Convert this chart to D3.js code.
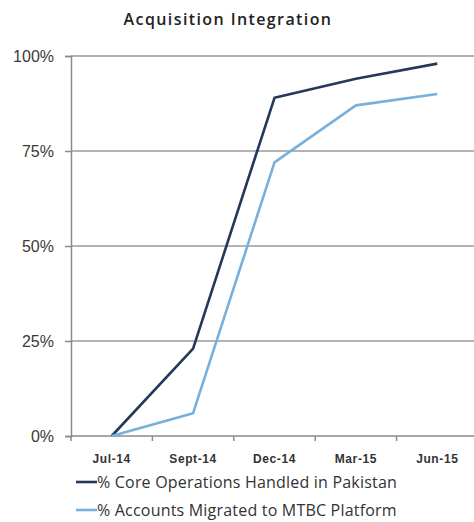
<!DOCTYPE html>
<html>
<head>
<meta charset="utf-8">
<script src="https://cdn.jsdelivr.net/npm/d3@7"></script>
<style>
  html, body { margin: 0; padding: 0; background: #fff; }
  svg { display: block; }
</style>
</head>
<body>
<svg id="chart" width="474" height="522"></svg>
<script>
// Quarterly checkpoints
const categories = ["Jul-14", "Sept-14", "Dec-14", "Mar-15", "Jun-15"];
// Share of core operations handled in Pakistan (%)
const coreOps = [0, 23, 89, 94, 98];
// Share of accounts migrated to the MTBC platform (%)
const accountsMigrated = [0, 6, 72, 87, 90];
// Y-axis ticks
const yTicks = [0, 25, 50, 75, 100];
const seriesNames = [
  "% Core Operations Handled in Pakistan",
  "% Accounts Migrated to MTBC Platform"
];
const seriesColors = ["#22395a", "#78b0dc"];

const svg = d3.select("#chart");
const plotLeft = 71, plotRight = 478, plotTop = 56, plotBottom = 436;

const x = d3.scaleBand().domain(categories).range([plotLeft, plotRight]);
const y = d3.scaleLinear().domain([0, 100]).range([plotBottom, plotTop]);

// Title
svg.append("text")
  .attr("x", 228).attr("y", 25)
  .attr("text-anchor", "middle")
  .attr("font-family", "Open Sans, sans-serif")
  .attr("font-weight", 600)
  .attr("font-size", 16)
  .attr("letter-spacing", 1.4)
  .attr("fill", "#222")
  .text("Acquisition Integration");

// Horizontal gridlines
svg.append("g").selectAll("line")
  .data(yTicks.filter(d => d > 0))
  .join("line")
  .attr("x1", plotLeft).attr("x2", 474)
  .attr("y1", d => y(d)).attr("y2", d => y(d))
  .attr("stroke", "#9a9a9a").attr("stroke-width", 1.5);

// Y axis
const yAxis = svg.append("g")
  .attr("transform", `translate(${plotLeft},0)`)
  .call(d3.axisLeft(y).tickValues(yTicks).tickFormat(d => d + "%").tickSize(6).tickPadding(11));
yAxis.select(".domain").attr("stroke", "#8a8a8a").attr("stroke-width", 1.5);
yAxis.selectAll(".tick line").attr("stroke", "#8a8a8a").attr("stroke-width", 1.5);
yAxis.selectAll(".tick text")
  .attr("font-family", "Liberation Sans, Arial, sans-serif")
  .attr("font-size", 16)
  .attr("fill", "#3a3a3a");

// X axis with ticks at category boundaries
const xAxisG = svg.append("g").attr("transform", `translate(0,${plotBottom})`);
xAxisG.append("line")
  .attr("x1", plotLeft).attr("x2", 474)
  .attr("stroke", "#8a8a8a").attr("stroke-width", 1.5);
xAxisG.selectAll("line.tick")
  .data(categories)
  .join("line")
  .attr("class", "tick")
  .attr("x1", d => x(d)).attr("x2", d => x(d))
  .attr("y1", 0).attr("y2", 5)
  .attr("stroke", "#8a8a8a").attr("stroke-width", 1.5);
xAxisG.selectAll("text")
  .data(categories)
  .join("text")
  .attr("x", d => x(d) + x.bandwidth() / 2)
  .attr("y", 27)
  .attr("text-anchor", "middle")
  .attr("font-family", "Liberation Sans, Arial, sans-serif")
  .attr("font-weight", "bold")
  .attr("font-size", 12)
  .attr("letter-spacing", 0.6)
  .attr("fill", "#333")
  .text(d => d);

// Series lines
const line = d3.line()
  .x((d, i) => x(categories[i]) + x.bandwidth() / 2)
  .y(d => y(d));

[coreOps, accountsMigrated].forEach((vals, i) => {
  svg.append("path")
    .datum(vals)
    .attr("d", line)
    .attr("fill", "none")
    .attr("stroke", seriesColors[i])
    .attr("stroke-width", 2.6)
    .attr("stroke-linejoin", "round");
});

// Legend
const legend = svg.append("g");
seriesNames.forEach((name, i) => {
  const ly = 482 + i * 28;
  legend.append("line")
    .attr("x1", 76).attr("x2", 97)
    .attr("y1", ly).attr("y2", ly)
    .attr("stroke", seriesColors[i]).attr("stroke-width", 2.6);
  legend.append("text")
    .attr("x", 97).attr("y", ly + 6)
    .attr("font-family", "Open Sans, sans-serif")
    .attr("font-size", 16)
    .attr("letter-spacing", 0.2)
    .attr("fill", "#333")
    .text(name);
});
</script>
</body>
</html>
